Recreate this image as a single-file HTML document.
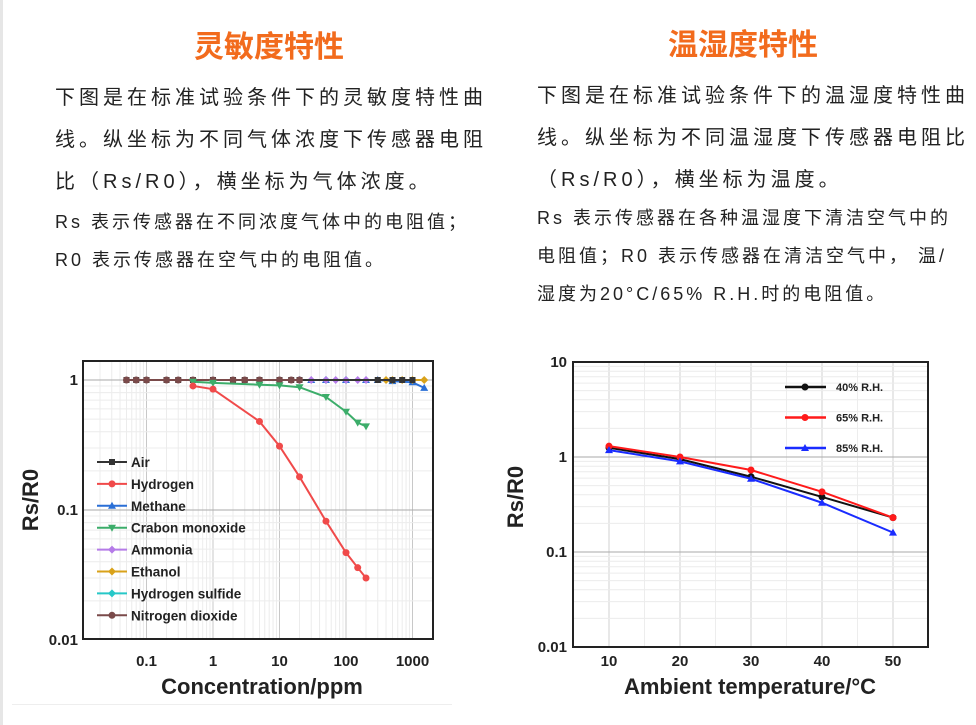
<!DOCTYPE html>
<html><head><meta charset="utf-8"><style>
body{margin:0;width:976px;height:725px;background:#fff;position:relative;overflow:hidden;font-family:"Liberation Sans","Noto Sans CJK SC",sans-serif;}
.t{position:absolute;color:#f26b1d;font-weight:bold;font-size:30px;font-family:"Liberation Sans","Noto Sans CJK SC",sans-serif;}
.p{position:absolute;color:#222;font-size:20px;letter-spacing:4px;white-space:nowrap;line-height:42px;}
.s{font-size:18px;letter-spacing:3px;line-height:38px;}
svg{position:absolute;left:0;top:0;}
</style></head><body>
<div style="position:absolute;left:0;top:0;width:3px;height:725px;background:#e6e6e6"></div>
<div class="t" style="left:194px;top:22px">灵敏度特性</div>
<div class="t" style="left:668px;top:20px">温湿度特性</div>
<div class="p" style="left:55px;top:77px">下图是在标准试验条件下的灵敏度特性曲<br>线。纵坐标为不同气体浓度下传感器电阻<br>比（Rs/R0），横坐标为气体浓度。</div>
<div class="p s" style="left:55px;top:203px">Rs 表示传感器在不同浓度气体中的电阻值；<br>R0 表示传感器在空气中的电阻值。</div>
<div class="p" style="left:537px;top:75px">下图是在标准试验条件下的温湿度特性曲<br>线。纵坐标为不同温湿度下传感器电阻比<br>（Rs/R0），横坐标为温度。</div>
<div class="p s" style="left:537px;top:199px">Rs 表示传感器在各种温湿度下清洁空气中的<br>电阻值；R0 表示传感器在清洁空气中， 温/<br>湿度为20°C/65% R.H.时的电阻值。</div>
<div style="position:absolute;left:12px;top:704px;width:440px;height:1px;background:#eee"></div>
<svg id="c" width="976" height="725"></svg>
<script>
// Left chart data
const gasNames=["Air","Hydrogen","Methane","Crabon monoxide","Ammonia","Ethanol","Hydrogen sulfide","Nitrogen dioxide"];
const gasColors=["#333333","#f04a4a","#2a6fd6","#3cad6a","#b57be8","#d9a21a","#27c8c8","#7a4a4a"];
const airX=[0.05,0.07,0.1,0.2,0.3,0.5,1,2,3,5,10,15,20,300,500,700,1000];
const airY=[1,1,1,1,1,1,1,1,1,1,1,1,1,1,1,1,1];
const h2X=[0.5,1,5,10,20,50,100,150,200];
const h2Y=[0.9,0.85,0.48,0.31,0.18,0.082,0.047,0.036,0.030];
const ch4X=[30,50,100,200,300,500,1000,1500];
const ch4Y=[1,1,1,1,1,0.98,0.96,0.87];
const coX=[0.5,1,5,10,20,50,100,150,200];
const coY=[0.97,0.95,0.92,0.91,0.88,0.74,0.57,0.47,0.44];
const nh3X=[20,30,50,70,100,150,200];
const nh3Y=[1,1,1,1,1,1,1];
const etX=[400,500,700,1000,1500];
const etY=[1,1,1,1,1];
const h2sX=[20,50,100];
const h2sY=[1,1,1];
const no2X=[0.05,0.07,0.1,0.2,0.3,0.5,1,2,3,5,10,15,20];
const no2Y=[1,1,1,1,1,1,1,1,1,1,1,1,1];
const xTicksL=[0.1,1,10,100,1000];
const xTickLabelsL=["0.1","1","10","100","1000"];
const yTicks=[0.01,0.1,1];
const yTickLabelsL=["0.01","0.1","1"];
// Right chart data
const temps=[10,20,30,40,50];
const rh40=[1.25,0.95,0.62,0.38,0.23];
const rh65=[1.3,1.0,0.73,0.43,0.23];
const rh85=[1.18,0.9,0.59,0.33,0.16];
const rhNames=["40% R.H.","65% R.H.","85% R.H."];
const rhColors=["#111111","#ff1a1a","#1a2cff"];
const yTicksR=[0.01,0.1,1,10];
const yTickLabelsR=["0.01","0.1","1","10"];

const svg=document.getElementById('c');
const NS='http://www.w3.org/2000/svg';
function mk(tag,at,parent){const e=document.createElementNS(NS,tag);for(const k in at)e.setAttribute(k,at[k]);(parent||svg).appendChild(e);return e;}
const L10=Math.log10;
const LX0=83,LX1=433,LY0=361,LY1=639;
const lxs=v=>213+(L10(v))*66.5;
const lys=v=>380-(L10(v))*130;
const RX0=573,RX1=928,RY0=362,RY1=647;
const rxs=v=>609+(v-10)*7.1;
const rys=v=>457-L10(v)*95;

for(let d=-2;d<=3;d++)for(let m=1;m<10;m++){const v=m*Math.pow(10,d);const x=lxs(v);if(x>LX0&&x<LX1){const g=mk('line',{x1:x,x2:x,y1:LY0,y2:LY1,stroke:m==1?'#c8c8c8':'#ececec','stroke-width':1});}}
for(let d=-2;d<=0;d++)for(let m=1;m<10;m++){const v=m*Math.pow(10,d);const y=lys(v);if(y>LY0&&y<LY1){const g=mk('line',{x1:LX0,x2:LX1,y1:y,y2:y,stroke:m==1?'#aaaaaa':'#ececec','stroke-width':1});}}
for(let t=5;t<=55;t+=5){const x=rxs(t);if(x>RX0&&x<RX1){const g=mk('line',{x1:x,x2:x,y1:RY0,y2:RY1,stroke:t%10==0?'#d0d0d0':'#ededed'});}}
for(let d=-2;d<=0;d++)for(let m=1;m<10;m++){const v=m*Math.pow(10,d);const y=rys(v);if(y>RY0&&y<RY1){const g=mk('line',{x1:RX0,x2:RX1,y1:y,y2:y,stroke:m==1?'#aaaaaa':'#ececec'});}}

function marker(x,y,c,type){
  let e;
  if(type==0)e=mk('rect',{x:x-3,y:y-3,width:6,height:6,fill:c});
  else if(type==2)e=mk('polygon',{points:`${x},${y-4} ${x+4},${y+3} ${x-4},${y+3}`,fill:c});
  else if(type==3)e=mk('polygon',{points:`${x},${y+4} ${x+4},${y-3} ${x-4},${y-3}`,fill:c});
  else if(type==4)e=mk('polygon',{points:`${x},${y-4} ${x+4},${y} ${x},${y+4} ${x-4},${y}`,fill:c});
  else e=mk('circle',{cx:x,cy:y,r:3.5,fill:c});
  
  
}
function series(xs,ys,fx,fy,c,type,w){
  const p=mk('polyline',{points:xs.map((v,i)=>fx(v)+','+fy(ys[i])).join(' '),fill:'none',stroke:c,'stroke-width':w||2});
  
  
  xs.forEach((v,i)=>marker(fx(v),fy(ys[i]),c,type));
}
const gasData=[[airX,airY],[h2X,h2Y],[ch4X,ch4Y],[coX,coY],[nh3X,nh3Y],[etX,etY],[h2sX,h2sY],[no2X,no2Y]];
const gasMark=[0,1,2,3,4,4,4,1];
[6,2,4,5,0,7,3,1].forEach(i=>series(gasData[i][0],gasData[i][1],lxs,lys,gasColors[i],gasMark[i]));
series(temps,rh40,rxs,rys,rhColors[0],1,2);
series(temps,rh65,rxs,rys,rhColors[1],1,2);
series(temps,rh85,rxs,rys,rhColors[2],2,2);

let f=mk('rect',{x:LX0,y:LY0,width:LX1-LX0,height:LY1-LY0,fill:'none',stroke:'#222','stroke-width':2});

f=mk('rect',{x:RX0,y:RY0,width:RX1-RX0,height:RY1-RY0,fill:'none',stroke:'#222','stroke-width':2});


function txt(x,y,s,size,anchor,name,extra){const t=mk('text',Object.assign({x:x,y:y,'font-size':size,'font-weight':'bold','text-anchor':anchor,fill:'#222','font-family':'Liberation Sans, sans-serif'},extra||{}));t.textContent=s;return t;}
xTicksL.forEach((v,i)=>txt(lxs(v),666,xTickLabelsL[i],15,'middle','x-tick-label'));
yTicks.forEach((v,i)=>txt(78,lys(v)+5,yTickLabelsL[i],15,'end','y-tick-label'));
temps.forEach(v=>txt(rxs(v),666,String(v),15,'middle','x-tick-label'));
yTicksR.forEach((v,i)=>txt(567,rys(v)+5,yTickLabelsR[i],15,'end','y-tick-label'));
txt(262,694,'Concentration/ppm',22,'middle','x-axis-title');
txt(750,694,'Ambient temperature/°C',22,'middle','x-axis-title');
txt(38,500,'Rs/R0',22,'middle','y-axis-title',{transform:'rotate(-90 38 500)'});
txt(523,497,'Rs/R0',22,'middle','y-axis-title',{transform:'rotate(-90 523 497)'});

gasNames.forEach((n,i)=>{const y=462+i*21.9;
  const l=mk('line',{x1:97,x2:127,y1:y,y2:y,stroke:gasColors[i],'stroke-width':2});
  
  marker(112,y,gasColors[i],gasMark[i]);
  txt(131,y+5,n,13.5,'start','legend-entry');});
rhNames.forEach((n,i)=>{const y=387+i*30.5;
  const l=mk('line',{x1:785,x2:826,y1:y,y2:y,stroke:rhColors[i],'stroke-width':2.5});
  
  marker(805,y,rhColors[i],i==2?2:1);
  txt(836,y+4,n,11,'start','legend-entry');});
</script>
</body></html>
